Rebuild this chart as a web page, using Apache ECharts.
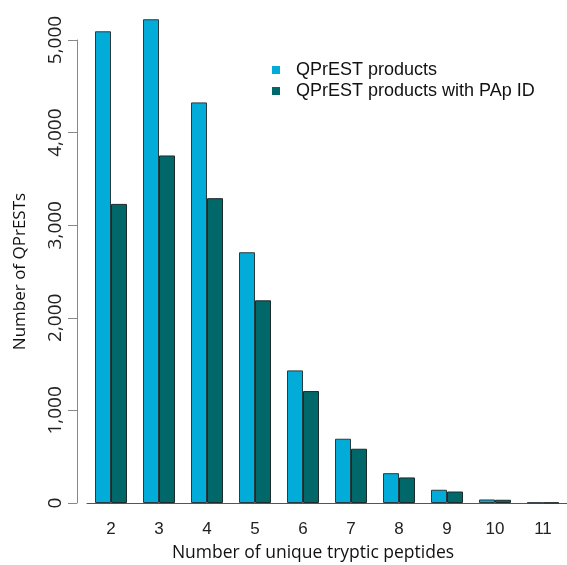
<!DOCTYPE html>
<html>
<head>
<meta charset="utf-8">
<script src="https://cdn.jsdelivr.net/npm/echarts@6/dist/echarts.min.js"></script>
<style>
  html, body { margin: 0; padding: 0; background: #fff; }
  #container { width: 567px; height: 565px; }
</style>
</head>
<body>
<div id="container"></div>
<script>
var categories = ['2', '3', '4', '5', '6', '7', '8', '9', '10', '11'];
var qprestProducts = [5094, 5224, 4326, 2708, 1432, 694, 322, 143, 38, 5];
var qprestWithPApId = [3230, 3753, 3292, 2189, 1209, 586, 276, 124, 35, 4];
var seriesNames = ['QPrEST products', 'QPrEST products with PAp ID'];

var dom = document.getElementById('container');
var myChart = echarts.init(dom);

var labelFont = 'Open Sans';

var option = {
    animation: false,
    backgroundColor: '#fff',
    legend: {
        orient: 'vertical',
        left: 267,
        top: 56,
        itemWidth: 8,
        itemHeight: 8,
        itemGap: 3,
        icon: 'rect',
        itemStyle: { borderWidth: 0 },
        textStyle: { fontFamily: 'Liberation Sans', fontSize: 18, color: '#111', padding: [0, 0, 0, 11] },
        data: seriesNames
    },
    // axis top at 5,000 so the y line stops at the last tick; tall bars run above it
    grid: { left: 87, right: 0, top: 40, bottom: 62, outerBoundsMode: 'none' },
    xAxis: {
        type: 'category',
        data: categories,
        name: 'Number of unique tryptic peptides',
        nameLocation: 'middle',
        nameGap: 41,
        nameTextStyle: { fontFamily: labelFont, fontSize: 17.5, color: '#111', padding: [0, 28, 0, 0] },
        axisLine: { lineStyle: { color: '#555', width: 1 } },
        axisTick: { show: false },
        axisLabel: { fontFamily: 'Liberation Sans', fontSize: 17, color: '#222', margin: 18 }
    },
    yAxis: {
        type: 'value',
        min: 0,
        max: 5000,
        interval: 1000,
        offset: 10,
        name: 'Number of QPrESTs',
        nameLocation: 'middle',
        nameGap: 48,
        nameRotate: 90,
        nameTextStyle: { fontFamily: labelFont, fontSize: 17, color: '#111' },
        splitLine: { show: false },
        axisLine: { show: true, lineStyle: { color: '#888', width: 1 } },
        axisTick: { show: true, length: 9, lineStyle: { color: '#888' } },
        axisLabel: {
            fontFamily: labelFont, fontSize: 19, color: '#222', rotate: 90, margin: 12,
            formatter: function (v) { return v.toLocaleString('en-US'); }
        }
    },
    series: [
        {
            name: seriesNames[0],
            type: 'bar',
            data: qprestProducts,
            barWidth: 16,
            barGap: '0%',
            clip: false,
            itemStyle: { color: '#02acd8', borderColor: '#2a3a3e', borderWidth: 1 }
        },
        {
            name: seriesNames[1],
            type: 'bar',
            data: qprestWithPApId,
            barWidth: 16,
            barGap: '0%',
            clip: false,
            itemStyle: { color: '#006868', borderColor: '#1e2b2b', borderWidth: 1 }
        }
    ]
};

myChart.setOption(option);
</script>
</body>
</html>
